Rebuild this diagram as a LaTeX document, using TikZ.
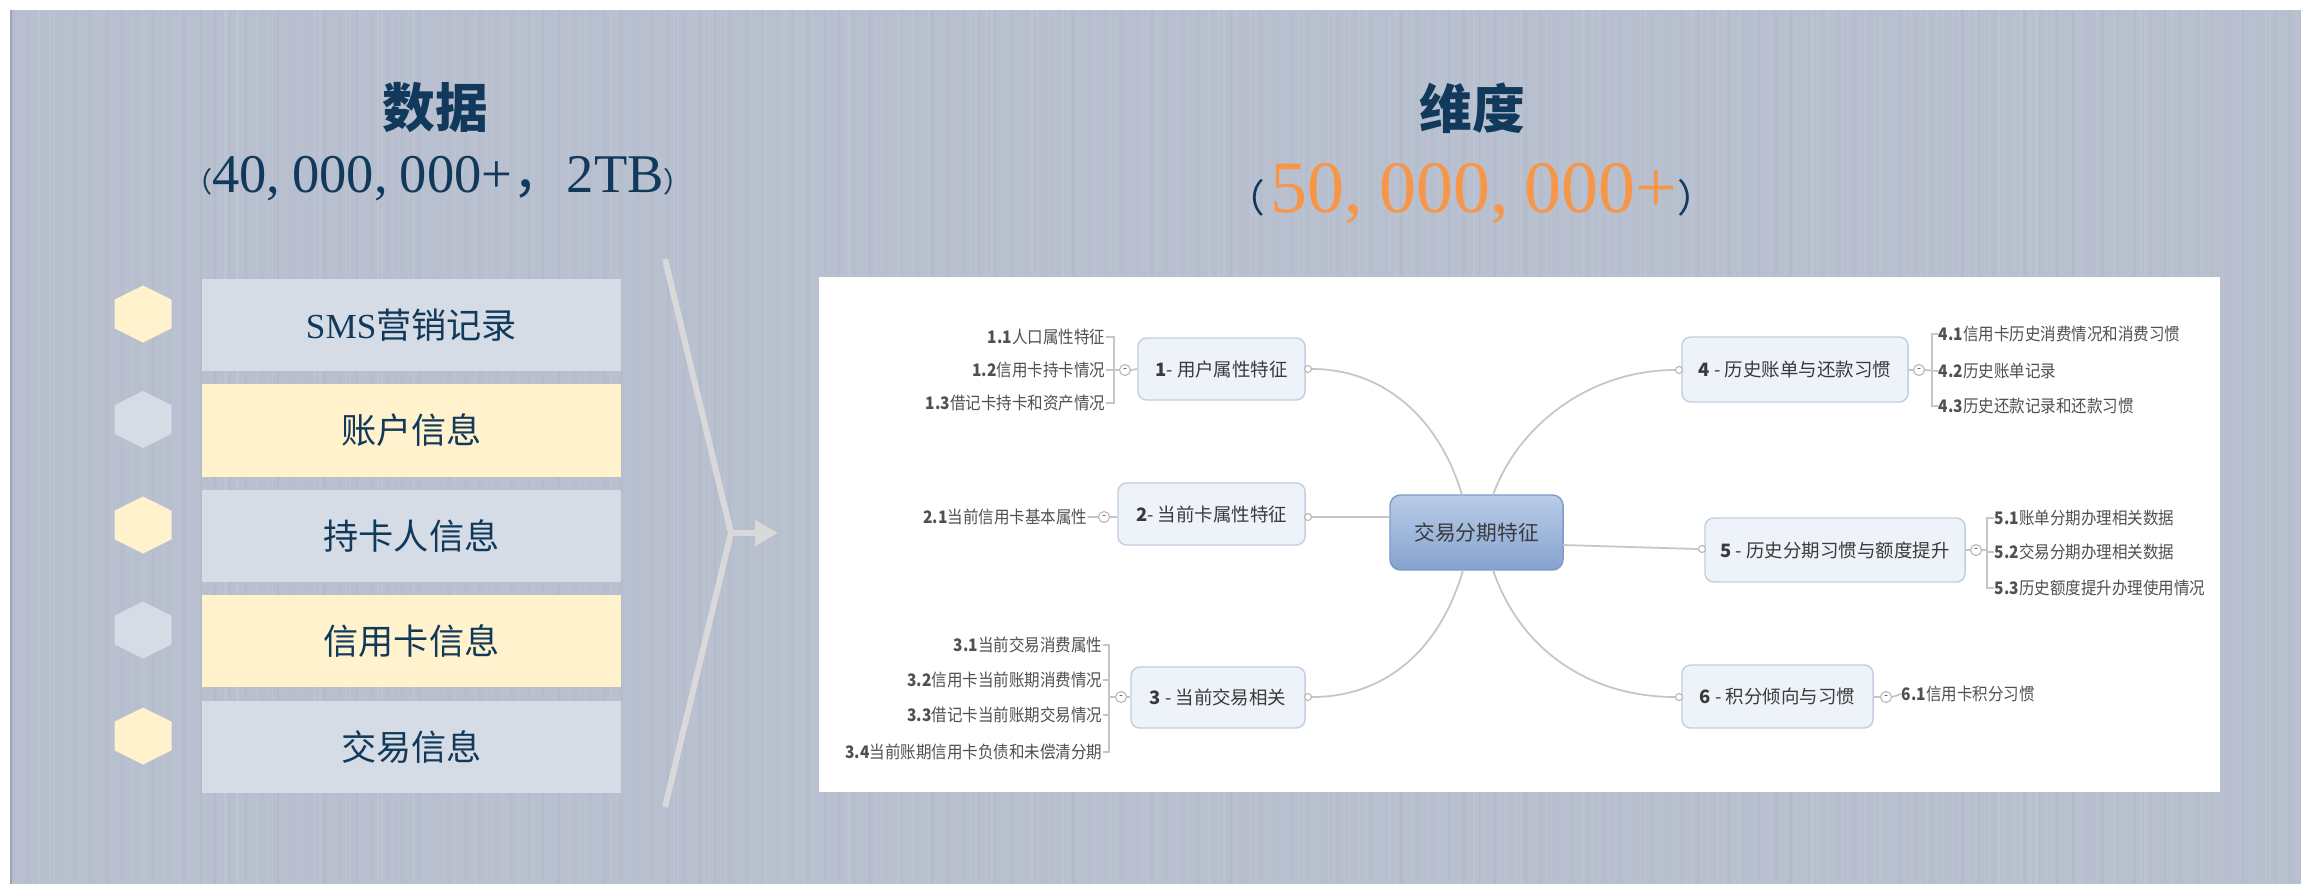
\documentclass[tikz,border=0pt]{standalone}
\usepackage{fontspec}
\setmainfont{Liberation Serif}
\newfontfamily\cjk{Noto Sans CJK SC}
\newfontfamily\cjkleaf[FakeStretch=0.9]{Noto Sans CJK SC}
\usetikzlibrary{arrows.meta}
\definecolor{bg}{HTML}{B8BFCE}
\definecolor{stripeA}{HTML}{C4CAD7}
\definecolor{stripeB}{HTML}{AEB5C5}
\definecolor{edgeline}{HTML}{9EA4B2}
\definecolor{boxgrey}{HTML}{D6DCE5}
\definecolor{boxyel}{HTML}{FFF2CC}
\definecolor{navy}{HTML}{11395B}
\definecolor{orng}{HTML}{F79646}
\definecolor{brk}{HTML}{D9D9D9}
\definecolor{mmfill}{HTML}{EEF3FA}
\definecolor{mmborder}{HTML}{C3CEE0}
\definecolor{mmtext}{HTML}{3A3A3A}
\definecolor{leaftext}{HTML}{505050}
\definecolor{mmgrey}{HTML}{C6C6C6}
\definecolor{dotc}{HTML}{B5B5B5}
\definecolor{ctop}{HTML}{B9CCE8}
\definecolor{cbot}{HTML}{85A3CF}
\definecolor{cborder}{HTML}{7E9BC7}
\newcommand{\cs}{,\hspace{0.22em}}
\tikzset{
  listbox/.style={minimum width=4.19cm, minimum height=0.925cm, inner sep=0pt, text=navy,
    font=\fontsize{10pt}{12pt}\selectfont},
  titletext/.style={text=navy, inner sep=0pt, font=\cjk\bfseries\fontsize{15pt}{18pt}\selectfont},
  mmnode/.style={draw=mmborder, fill=mmfill, rounded corners=2.5pt, line width=0.4pt,
    inner sep=0pt, text=mmtext, font=\cjk\fontsize{5.25pt}{6pt}\selectfont},
  leaf/.style={inner sep=0pt, text=leaftext, font=\cjkleaf\fontsize{4.9pt}{5.5pt}\selectfont},
  mmconn/.style={draw=mmgrey, line width=0.5pt},
  dotn/.style={circle, draw=dotc, fill=white, line width=0.3pt, inner sep=0pt, minimum size=0.07cm},
  foldn/.style={circle, draw=dotc, fill=white, line width=0.3pt, inner sep=0pt, minimum size=0.11cm,
    font=\fontsize{3pt}{3pt}\selectfont, text=mmtext},
  brkline/.style={draw=brk, line width=1.7pt},
}
\begin{document}
\begin{tikzpicture}[x=0.01cm,y=-0.01cm]
\useasboundingbox (0,0) rectangle (2301,884);
% background
\fill[white] (0,0) rectangle (2301,884);
\fill[bg] (10,10) rectangle (2301,884);
\pgfmathsetseed{11}
\foreach \i in {0,...,440} {
  \pgfmathsetmacro\xx{12+\i*5.2+rnd*2}
  \pgfmathsetmacro\ww{0.2+rnd*0.5}
  \pgfmathsetmacro\oo{0.15+rnd*0.35}
  \pgfmathtruncatemacro\pick{mod(\i,3)}
  \ifnum\pick=0
    \draw[stripeB, line width=\ww pt, opacity=\oo] (\xx,10) -- (\xx,884);
  \else
    \draw[stripeA, line width=\ww pt, opacity=\oo] (\xx,10) -- (\xx,884);
  \fi
}
\draw[edgeline, line width=0.6pt] (11,10) -- (11,884);

% titles
\node[titletext] (t1) at (435,108) {数据};
\node[anchor=base, text=navy, inner sep=0pt, font=\fontsize{15.5pt}{17pt}\selectfont] (s1) at (438,192)
  {{\cjk\fontsize{8pt}{8pt}\selectfont （}40\cs 000\cs 000+{\cjk ，}2TB{\cjk\fontsize{8pt}{8pt}\selectfont ）}};
\node[titletext] (t2) at (1472,108) {维度};
\node[anchor=base, text=navy, inner sep=0pt, font=\fontsize{21pt}{24pt}\selectfont] (s2) at (1471,212)
  {{\cjk\fontsize{11pt}{11pt}\selectfont （}\hspace{0.08em}\textcolor{orng}{50\cs 000\cs 000+}{\cjk\fontsize{11pt}{11pt}\selectfont ）}};

% left list
\node[listbox, fill=boxgrey] (b1) at (411.5,325) {SMS{\cjk 营销记录}};
\node[listbox, fill=boxyel]  (b2) at (411.5,430.5) {\cjk 账户信息};
\node[listbox, fill=boxgrey] (b3) at (411.5,536) {\cjk 持卡人信息};
\node[listbox, fill=boxyel]  (b4) at (411.5,641) {\cjk 信用卡信息};
\node[listbox, fill=boxgrey] (b5) at (411.5,747) {\cjk 交易信息};

% hexagons
\foreach \yy/\cc in {314/boxyel, 419.5/boxgrey, 525/boxyel, 630/boxgrey, 736/boxyel} {
  \fill[\cc] (143,\yy-28.5) -- (171.5,\yy-14.3) -- (171.5,\yy+14.3) -- (143,\yy+28.5)
     -- (114.5,\yy+14.3) -- (114.5,\yy-14.3) -- cycle;
}

% bracket arrow
\coordinate (bt) at (665,259);
\coordinate (bv) at (731,533);
\coordinate (bb) at (665,807);
\coordinate (at) at (778,533);
\draw[brkline, line join=miter] (bt) -- (bv) -- (bb);
\draw[brkline, -{Triangle[length=6.5pt,width=7pt]}] (bv) -- (at);

% mind map panel
\fill[white] (819,277) rectangle (2220,792);

% center node
\node[draw=cborder, top color=ctop, bottom color=cbot, rounded corners=3pt, line width=0.4pt,
  minimum width=1.73cm, minimum height=0.75cm, inner sep=0pt, text=mmtext,
  font=\cjk\fontsize{5.9pt}{7pt}\selectfont] (C) at (1476.5,532.5) {交易分期特征};

% branch nodes
\node[mmnode, minimum width=1.67cm, minimum height=0.62cm] (N1) at (1221.5,369) {\textbf{1}- 用户属性特征};
\node[mmnode, minimum width=1.87cm, minimum height=0.62cm] (N2) at (1211.5,514) {\textbf{2}- 当前卡属性特征};
\node[mmnode, minimum width=1.74cm, minimum height=0.61cm] (N3) at (1218,697.5) {\textbf{3} - 当前交易相关};
\node[mmnode, minimum width=2.26cm, minimum height=0.65cm] (N4) at (1795,369.5) {\textbf{4} - 历史账单与还款习惯};
\node[mmnode, minimum width=2.60cm, minimum height=0.64cm] (N5) at (1835,550) {\textbf{5} - 历史分期习惯与额度提升};
\node[mmnode, minimum width=1.91cm, minimum height=0.63cm] (N6) at (1777.5,696.5) {\textbf{6} - 积分倾向与习惯};

% connector end dots
\node[dotn] (k1) at (1308,369) {};
\node[dotn] (k2) at (1308,517) {};
\node[dotn] (k3) at (1308,697) {};
\node[dotn] (k4) at (1679,370) {};
\node[dotn] (k5) at (1702,549) {};
\node[dotn] (k6) at (1679,697) {};

\coordinate (c1) at (1462,495);
\coordinate (c4) at (1493,495);
\coordinate (c2) at (1390,517);
\coordinate (c5) at (1563,545);
\coordinate (c3) at (1463,570);
\coordinate (c6) at (1493,570);

\draw[mmconn] (c1) .. controls (1440,420) and (1385,369) .. (k1.east);
\draw[mmconn] (c2) -- (k2.east);
\draw[mmconn] (c3) .. controls (1440,650) and (1385,697) .. (k3.east);
\draw[mmconn] (c4) .. controls (1518,425) and (1590,370) .. (k4.west);
\draw[mmconn] (c5) -- (k5.west);
\draw[mmconn] (c6) .. controls (1522,655) and (1595,697) .. (k6.west);

% fold markers
\node[foldn] (m1) at (1125,370) {-};
\node[foldn] (m2) at (1104,517) {-};
\node[foldn] (m3) at (1121,697) {-};
\node[foldn] (m4) at (1919,370) {-};
\node[foldn] (m5) at (1976,550) {-};
\node[foldn] (m6) at (1886,697) {-};

% leaves, group 1
\node[leaf, anchor=east] (l11) at (1106,337) {\textbf{1.1}人口属性特征};
\node[leaf, anchor=east] (l12) at (1106,370) {\textbf{1.2}信用卡持卡情况};
\node[leaf, anchor=east] (l13) at (1106,403) {\textbf{1.3}借记卡持卡和资产情况};
\draw[mmconn] (l11.east) -- (1114,337) -- (1114,403) -- (l13.east);
\draw[mmconn] (l12.east) -- (m1.west);
\draw[mmconn] (m1.east) -- (N1.west);
% group 2
\node[leaf, anchor=east] (l21) at (1088,517) {\textbf{2.1}当前信用卡基本属性};
\draw[mmconn] (l21.east) -- (m2.west);
\draw[mmconn] (m2.east) -- (N2.west |- m2);
% group 3
\node[leaf, anchor=east] (l31) at (1103,645) {\textbf{3.1}当前交易消费属性};
\node[leaf, anchor=east] (l32) at (1103,680) {\textbf{3.2}信用卡当前账期消费情况};
\node[leaf, anchor=east] (l33) at (1103,715) {\textbf{3.3}借记卡当前账期交易情况};
\node[leaf, anchor=east] (l34) at (1103,752) {\textbf{3.4}当前账期信用卡负债和未偿清分期};
\draw[mmconn] (l31.east) -- (1109,645) -- (1109,752) -- (l34.east);
\draw[mmconn] (l32.east) -- (1109,680);
\draw[mmconn] (l33.east) -- (1109,715);
\draw[mmconn] (1109,697) -- (m3.west);
\draw[mmconn] (m3.east) -- (N3.west |- m3);
% group 4
\node[leaf, anchor=west] (l41) at (1938,334) {\textbf{4.1}信用卡历史消费情况和消费习惯};
\node[leaf, anchor=west] (l42) at (1938,371) {\textbf{4.2}历史账单记录};
\node[leaf, anchor=west] (l43) at (1938,406) {\textbf{4.3}历史还款记录和还款习惯};
\draw[mmconn] (l41.west) -- (1932,334) -- (1932,406) -- (l43.west);
\draw[mmconn] (m4.east) -- (l42.west);
\draw[mmconn] (N4.east |- m4) -- (m4.west);
% group 5
\node[leaf, anchor=west] (l51) at (1994,518) {\textbf{5.1}账单分期办理相关数据};
\node[leaf, anchor=west] (l52) at (1994,552) {\textbf{5.2}交易分期办理相关数据};
\node[leaf, anchor=west] (l53) at (1994,588) {\textbf{5.3}历史额度提升办理使用情况};
\draw[mmconn] (l51.west) -- (1987,518) -- (1987,588) -- (l53.west);
\draw[mmconn] (l52.west) -- (1987,552);
\draw[mmconn] (m5.east) -- (1987,550);
\draw[mmconn] (N5.east |- m5) -- (m5.west);
% group 6
\node[leaf, anchor=west] (l61) at (1901,694) {\textbf{6.1}信用卡积分习惯};
\draw[mmconn] (m6.east) -- (l61.west);
\draw[mmconn] (N6.east |- m6) -- (m6.west);
\end{tikzpicture}
\end{document}
